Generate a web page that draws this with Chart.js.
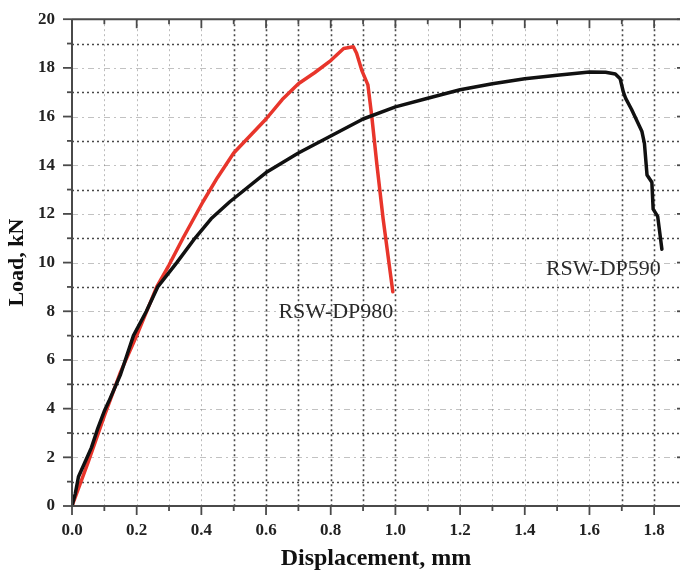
<!DOCTYPE html>
<html><head><meta charset="utf-8">
<script src="https://cdn.jsdelivr.net/npm/chart.js@4/dist/chart.umd.min.js"></script>
<style>html,body{margin:0;padding:0;background:#fff;overflow:hidden}#wrap{width:680px;height:573px}</style>
</head><body><div id="wrap"><canvas id="c" width="680" height="573"></canvas></div>
<script>
const seriesNames = ['RSW-DP590', 'RSW-DP980'];
const dp590X = [0,0.01,0.02,0.04,0.06,0.08,0.1,0.114,0.15,0.19,0.23,0.265,0.324,0.38,0.43,0.488,0.6,0.7,0.8,0.9,1.0,1.1,1.2,1.3,1.4,1.5,1.6,1.65,1.68,1.695,1.705,1.712,1.73,1.762,1.77,1.778,1.793,1.797,1.811,1.824];
const dp590Y = [0,0.5,1.2,1.8,2.4,3.2,3.9,4.3,5.4,7.0,8.0,9.0,10.0,11.0,11.8,12.5,13.7,14.5,15.2,15.9,16.4,16.75,17.1,17.35,17.55,17.7,17.83,17.82,17.75,17.55,17.0,16.75,16.3,15.4,14.9,13.6,13.3,12.2,11.9,10.55];
const dp980X = [0,0.05,0.1,0.15,0.2,0.262,0.3,0.343,0.405,0.45,0.5,0.55,0.6,0.65,0.7,0.75,0.8,0.84,0.87,0.88,0.896,0.915,0.927,0.943,0.962,0.992];
const dp980Y = [0,1.8,3.7,5.5,7.0,9.0,9.9,11.0,12.5,13.5,14.5,15.2,15.9,16.7,17.35,17.8,18.3,18.8,18.87,18.6,17.9,17.3,16.0,14.0,11.8,8.8];
const xTickValues = [0,0.2,0.4,0.6,0.8,1.0,1.2,1.4,1.6,1.8];
const xTickLabels = ['0.0','0.2','0.4','0.6','0.8','1.0','1.2','1.4','1.6','1.8'];
const yTickValues = [0,2,4,6,8,10,12,14,16,18,20];
const yTickLabels = ['0','2','4','6','8','10','12','14','16','18','20'];
const labelPosX = [1.643, 0.816];
const labelPosY = [9.73, 7.98];
const xGridDark = [0.5,0.6,0.7,0.8,0.9,1.0,1.7,1.8];

const serif = "'Liberation Serif', 'Times New Roman', serif";

const framePlugin = {
  id: 'frame',
  beforeDatasetsDraw(chart) {
    const {ctx, chartArea: a, scales: {x, y}} = chart;
    ctx.save();
    for (let i = 1; i < 20; i++) {
      const py = Math.round(y.getPixelForValue(i)) + 0.5;
      ctx.beginPath();
      if (i % 2 === 1) { ctx.strokeStyle = 'rgba(40,40,40,0.85)'; ctx.lineWidth = 1.6; ctx.setLineDash([2, 3]); }
      else { ctx.strokeStyle = 'rgba(120,120,120,0.45)'; ctx.lineWidth = 1; ctx.setLineDash([6, 4, 2, 4]); }
      ctx.moveTo(a.left, py); ctx.lineTo(a.right, py); ctx.stroke();
    }
    for (let i = 1; i <= 18; i++) {
      const v = i / 10;
      const px = Math.round(x.getPixelForValue(v)) + 0.5;
      const dark = xGridDark.some(d => Math.abs(d - v) < 1e-6);
      ctx.beginPath();
      if (dark) { ctx.strokeStyle = 'rgba(40,40,40,0.85)'; ctx.lineWidth = 1.6; ctx.setLineDash([2, 3]); }
      else { ctx.strokeStyle = 'rgba(120,120,120,0.5)'; ctx.lineWidth = 1; ctx.setLineDash([2, 3]); }
      ctx.moveTo(px, a.top); ctx.lineTo(px, a.bottom); ctx.stroke();
    }
    ctx.restore();
  },
  afterDatasetsDraw(chart) {
    const {ctx, chartArea: a, scales: {x, y}} = chart;
    ctx.save();
    ctx.setLineDash([]);
    ctx.strokeStyle = '#4a4a4a';
    ctx.lineWidth = 2;
    ctx.beginPath();
    ctx.moveTo(a.left, a.top); ctx.lineTo(a.left, a.bottom); ctx.lineTo(a.right, a.bottom);
    ctx.moveTo(a.left, a.top); ctx.lineTo(a.right, a.top);
    ctx.stroke();
    ctx.lineWidth = 1.8;
    for (let i = 0; i <= 20; i++) {
      const py = y.getPixelForValue(i);
      const len = i % 2 === 0 ? 9 : 5;
      ctx.beginPath(); ctx.moveTo(a.left - len, py); ctx.lineTo(a.left, py); ctx.stroke();
      if (i % 2 === 0) { ctx.beginPath(); ctx.moveTo(a.right - 3, py); ctx.lineTo(a.right, py); ctx.stroke(); }
    }
    for (let i = 0; i <= 18; i++) {
      const px = x.getPixelForValue(i / 10);
      const len = i % 2 === 0 ? 9 : 5;
      ctx.beginPath(); ctx.moveTo(px, a.bottom); ctx.lineTo(px, a.bottom + len); ctx.stroke();
      ctx.beginPath(); ctx.moveTo(px, a.top); ctx.lineTo(px, a.top + len); ctx.stroke();
    }
    ctx.fillStyle = '#2a2a2a';
    ctx.font = '22px ' + serif;
    ctx.textAlign = 'center';
    ctx.textBaseline = 'middle';
    seriesNames.forEach((n, k) => {
      ctx.fillText(n, x.getPixelForValue(labelPosX[k]), y.getPixelForValue(labelPosY[k]));
    });
    ctx.restore();
  }
};

new Chart(document.getElementById('c'), {
  type: 'line',
  data: {
    datasets: [
      { label: seriesNames[0], data: dp590X.map((v, i) => ({x: v, y: dp590Y[i]})), borderColor: '#111111', borderWidth: 3.5, pointRadius: 0, tension: 0, borderJoinStyle: 'round', borderCapStyle: 'round' },
      { label: seriesNames[1], data: dp980X.map((v, i) => ({x: v, y: dp980Y[i]})), borderColor: '#e8352b', borderWidth: 3.5, pointRadius: 0, tension: 0, borderJoinStyle: 'round', borderCapStyle: 'round' }
    ]
  },
  options: {
    responsive: false,
    animation: false,
    devicePixelRatio: 1,
    layout: { padding: { top: 3, right: 0, left: 0, bottom: 0 } },
    plugins: { legend: { display: false }, tooltip: { enabled: false } },
    scales: {
      x: {
        type: 'linear', min: 0, max: 1.88,
        afterBuildTicks: s => { s.ticks = xTickValues.map(v => ({value: v})); },
        afterFit: s => { s.height = 67; },
        grid: { display: false }, border: { display: false },
        ticks: { callback: (v, i) => xTickLabels[i], font: { family: serif, size: 17, weight: 'bold' }, color: '#222', padding: 6, maxRotation: 0, autoSkip: false },
        title: { display: true, text: 'Displacement, mm', font: { family: serif, size: 24, weight: 'bold' }, color: '#111', padding: { top: 0, bottom: 0 } }
      },
      y: {
        type: 'linear', min: 0, max: 20,
        afterBuildTicks: s => { s.ticks = yTickValues.map(v => ({value: v})); },
        afterFit: s => { s.width = 72; },
        grid: { display: false }, border: { display: false },
        ticks: { callback: (v, i) => yTickLabels[i], font: { family: serif, size: 17, weight: 'bold' }, color: '#222', padding: 9, autoSkip: false },
        title: { display: true, text: 'Load, kN', font: { family: serif, size: 22, weight: 'bold' }, color: '#111', padding: { top: 4, bottom: 0 } }
      }
    }
  },
  plugins: [framePlugin]
});
</script></body></html>
